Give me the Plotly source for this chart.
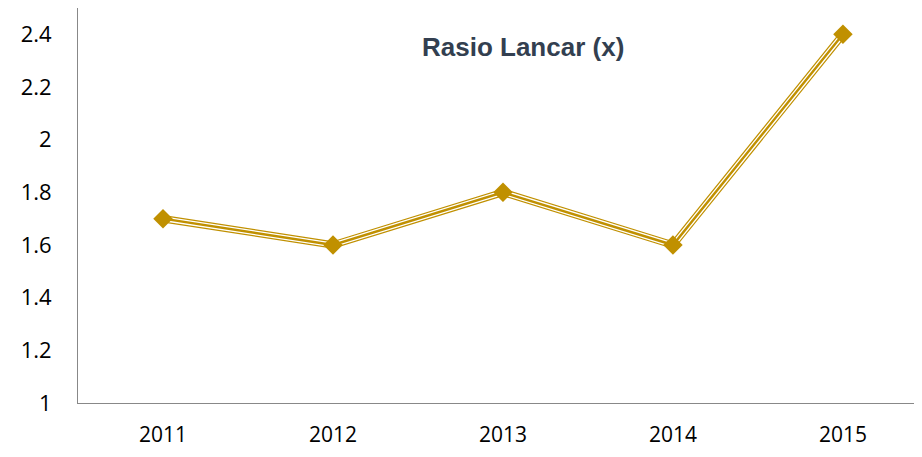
import plotly.graph_objs as go

# data
years = ["2011", "2012", "2013", "2014", "2015"]
ratio = [1.7, 1.6, 1.8, 1.6, 2.4]
y_ticks = [1, 1.2, 1.4, 1.6, 1.8, 2, 2.2, 2.4]

gold = "#C09000"

fig = go.Figure()

# triple line look: thick gold, white inside, thin gold core
fig.add_trace(go.Scatter(x=years, y=ratio, mode="lines",
                         line={"color": gold, "width": 7.5}, hoverinfo="skip"))
fig.add_trace(go.Scatter(x=years, y=ratio, mode="lines",
                         line={"color": "white", "width": 5}, hoverinfo="skip"))
fig.add_trace(go.Scatter(x=years, y=ratio, mode="lines+markers",
                         line={"color": gold, "width": 2.4},
                         marker={"symbol": "diamond", "size": 15, "color": gold}))

# page body has an 8px margin, so the figure is sized to fit inside the window
fig.update_layout(
    width=906, height=441,
    margin={"l": 70, "r": 0, "t": 0, "b": 46},
    plot_bgcolor="white", paper_bgcolor="white",
    showlegend=False,
    font={"family": "Open Sans, Liberation Sans, sans-serif", "size": 22, "color": "#000000"},
    annotations=[dict(text="<b>Rasio Lancar (x)</b>", x=0.532, xref="paper",
                      y=0.9, yref="paper", yanchor="middle", showarrow=False,
                      font={"family": "Liberation Sans, Arial, sans-serif", "size": 26,
                            "color": "#333F50"})],
)

fig.update_xaxes(type="category", range=[-0.5, 4.418], showline=True, linecolor="#888888",
                 linewidth=1, showgrid=False, ticks="", ticklabelstandoff=13,
                 tickfont={"size": 21}, automargin=False)
fig.update_yaxes(range=[1, 2.5], tickvals=y_ticks, ticktext=[f"{v:g}" for v in y_ticks],
                 showline=True, linecolor="#888888", linewidth=1, showgrid=False,
                 zeroline=False, ticks="", ticklabelstandoff=21, automargin=False)

fig.write_html("out.html")
